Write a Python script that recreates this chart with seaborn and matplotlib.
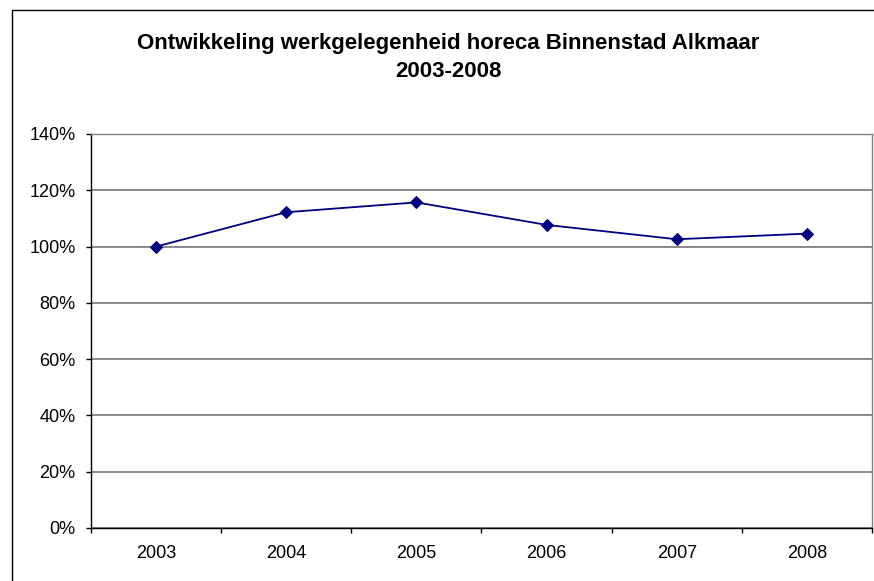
import matplotlib
matplotlib.use("Agg")
import matplotlib.pyplot as plt
import pandas as pd
import seaborn as sns
from matplotlib.patches import Rectangle
from matplotlib.ticker import FixedLocator, PercentFormatter

# Gegevens (index 2003 = 100%)
jaren = ["2003", "2004", "2005", "2006", "2007", "2008"]
werkgelegenheid = [100.0, 112.2, 115.7, 107.7, 102.6, 104.6]

df = pd.DataFrame({"jaar": jaren, "index": werkgelegenheid})

sns.set_theme(style="white")
plt.rcParams["font.family"] = ["Liberation Sans", "DejaVu Sans"]
plt.rcParams["text.color"] = "black"
plt.rcParams["xtick.color"] = "black"
plt.rcParams["ytick.color"] = "black"

fig = plt.figure(figsize=(8.74, 5.81), dpi=100)
ax = fig.add_axes([91 / 874, 1 - 528 / 581, 781 / 874, 394 / 581])

sns.lineplot(data=df, x="jaar", y="index", ax=ax, color="#000080",
             marker="D", markersize=6, linewidth=1.3,
             markeredgecolor="#000080", sort=False)

ax.set_xlim(-0.5, len(jaren) - 0.5)
ax.set_ylim(0, 140)
ax.set_yticks(range(0, 141, 20))
ax.yaxis.set_major_formatter(PercentFormatter(100, decimals=0))
ax.set_xlabel("")
ax.set_ylabel("")

# rasterlijnen
ax.yaxis.grid(True, color="#6a6a6a", linewidth=1.1)
ax.set_axisbelow(True)

# tick-markeringen tussen de categorieën
ax.xaxis.set_minor_locator(FixedLocator([i - 0.5 for i in range(len(jaren) + 1)]))
ax.tick_params(axis="x", which="major", length=0, pad=12, labelsize=13, labelcolor="black")
ax.tick_params(axis="x", which="minor", length=3.6, width=1, color="black", bottom=True)
ax.tick_params(axis="y", which="major", length=3.6, width=1, color="black", pad=7.5,
               labelsize=13, labelcolor="black", left=True)

for kant in ["left", "bottom"]:
    ax.spines[kant].set_color("black")
    ax.spines[kant].set_linewidth(1)
for kant in ["top", "right"]:
    ax.spines[kant].set_color("#808080")
    ax.spines[kant].set_linewidth(1)

# rand om de grafiek
fig.patches.append(Rectangle((12 / 874, -0.5), 1.5, 0.5 + 1 - 10 / 581,
                             transform=fig.transFigure, fill=False,
                             edgecolor="black", linewidth=1))

fig.text(448 / 874, 1 - 49 / 581, "Ontwikkeling werkgelegenheid horeca Binnenstad Alkmaar",
         ha="center", va="baseline", fontsize=16, fontweight="bold", color="black")
fig.text(448 / 874, 1 - 77 / 581, "2003-2008",
         ha="center", va="baseline", fontsize=16, fontweight="bold", color="black")

fig.savefig("out.png", dpi=100)
